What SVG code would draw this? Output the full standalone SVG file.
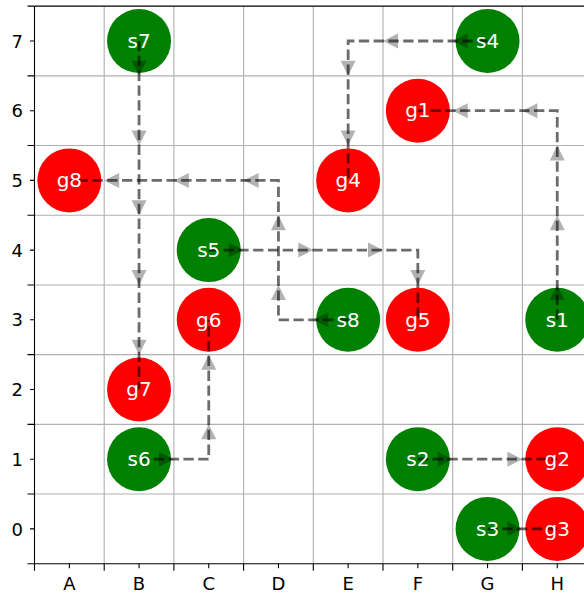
<svg xmlns="http://www.w3.org/2000/svg" xmlns:xlink="http://www.w3.org/1999/xlink" width="584" height="594" viewBox="0 0 584 594">
<style>
.grid{stroke:#b0b0b0;stroke-width:1.1;fill:none}
.spine{stroke:#000;stroke-width:1.1;fill:none}
.tick{stroke:#000;stroke-width:1.1}
.tl{font-family:"DejaVu Sans",sans-serif;font-size:18px;fill:#000}
.s circle{fill:#008000}
.g circle{fill:#ff0000}
.nl{font-family:"DejaVu Sans",sans-serif;font-size:20px;fill:#fff;text-anchor:middle}
.route{fill:none;stroke:#000;stroke-opacity:0.58;stroke-width:2.8;stroke-dasharray:10.3 4.5}
.ah{fill:#000;fill-opacity:0.3}
</style>
<defs>
<path id="ar" class="ah" d="M0,0 L-15,-7.5 L-15,7.5 Z"/>
</defs>
<rect width="584" height="594" fill="#fff"/>
<g id="grid">
<path class="grid" d="M104.2,6.15V563.75M173.9,6.15V563.75M243.6,6.15V563.75M313.3,6.15V563.75M383,6.15V563.75M452.7,6.15V563.75M522.4,6.15V563.75"/>
<path class="grid" d="M34.5,494.05H584M34.5,424.35H584M34.5,354.65H584M34.5,284.95H584M34.5,215.25H584M34.5,145.55H584M34.5,75.85H584"/>
</g>
<g id="axes">
<path class="spine" d="M34.5,6.15H584M34.5,6.15V563.75H584"/>
<path class="tick" d="M34.5,563.75h-7M34.5,494.05h-7M34.5,424.35h-7M34.5,354.65h-7M34.5,284.95h-7M34.5,215.25h-7M34.5,145.55h-7M34.5,75.85h-7M34.5,6.15h-7"/>
<path class="tick" d="M34.5,528.9h-4.5M34.5,459.2h-4.5M34.5,389.5h-4.5M34.5,319.8h-4.5M34.5,250.1h-4.5M34.5,180.4h-4.5M34.5,110.7h-4.5M34.5,41h-4.5"/>
<path class="tick" d="M34.5,563.75v7M104.2,563.75v7M173.9,563.75v7M243.6,563.75v7M313.3,563.75v7M383,563.75v7M452.7,563.75v7M522.4,563.75v7"/>
<path class="tick" d="M69.35,563.75v4.5M139.05,563.75v4.5M208.75,563.75v4.5M278.45,563.75v4.5M348.15,563.75v4.5M417.85,563.75v4.5M487.55,563.75v4.5M557.25,563.75v4.5"/>
<g class="tl" text-anchor="end">
<text x="23" y="535.5">0</text>
<text x="23" y="465.8">1</text>
<text x="23" y="396.1">2</text>
<text x="23" y="326.4">3</text>
<text x="23" y="256.7">4</text>
<text x="23" y="187">5</text>
<text x="23" y="117.3">6</text>
<text x="23" y="47.6">7</text>
</g>
<g class="tl" text-anchor="middle">
<text x="69.35" y="589.5">A</text>
<text x="139.05" y="589.5">B</text>
<text x="208.75" y="589.5">C</text>
<text x="278.45" y="589.5">D</text>
<text x="348.15" y="589.5">E</text>
<text x="417.85" y="589.5">F</text>
<text x="487.55" y="589.5">G</text>
<text x="557.25" y="589.5">H</text>
</g>
</g>
<g id="circles">
<g id="s1" class="s"><circle cx="557.25" cy="319.8" r="32"/></g>
<g id="s2" class="s"><circle cx="417.85" cy="459.2" r="32"/></g>
<g id="s3" class="s"><circle cx="487.55" cy="528.9" r="32"/></g>
<g id="s4" class="s"><circle cx="487.55" cy="41" r="32"/></g>
<g id="s5" class="s"><circle cx="208.75" cy="250.1" r="32"/></g>
<g id="s6" class="s"><circle cx="139.05" cy="459.2" r="32"/></g>
<g id="s7" class="s"><circle cx="139.05" cy="41" r="32"/></g>
<g id="s8" class="s"><circle cx="348.15" cy="319.8" r="32"/></g>
<g id="g1" class="g"><circle cx="417.85" cy="110.7" r="32"/></g>
<g id="g2" class="g"><circle cx="557.25" cy="459.2" r="32"/></g>
<g id="g3" class="g"><circle cx="557.25" cy="528.9" r="32"/></g>
<g id="g4" class="g"><circle cx="348.15" cy="180.4" r="32"/></g>
<g id="g5" class="g"><circle cx="417.85" cy="319.8" r="32"/></g>
<g id="g6" class="g"><circle cx="208.75" cy="319.8" r="32"/></g>
<g id="g7" class="g"><circle cx="139.05" cy="389.5" r="32"/></g>
<g id="g8" class="g"><circle cx="69.35" cy="180.4" r="32"/></g>
</g>
<g id="connectors">
<path class="route" d="M557.25,319.8V110.7H417.85"/>
<path class="route" d="M417.85,459.2H557.25"/>
<path class="route" d="M487.55,528.9H557.25"/>
<path class="route" d="M487.55,41H348.15V180.4"/>
<path class="route" d="M208.75,250.1H417.85V319.8"/>
<path class="route" d="M139.05,459.2H208.75V319.8"/>
<path class="route" d="M139.05,41V389.5"/>
<path class="route" d="M348.15,319.8H278.45V180.4H69.35"/>
<!-- s1 -->
<use xlink:href="#ar" transform="translate(557.25,284.95) rotate(-90)"/>
<use xlink:href="#ar" transform="translate(557.25,215.25) rotate(-90)"/>
<use xlink:href="#ar" transform="translate(557.25,145.55) rotate(-90)"/>
<use xlink:href="#ar" transform="translate(522.4,110.7) rotate(180)"/>
<use xlink:href="#ar" transform="translate(452.7,110.7) rotate(180)"/>
<!-- s2 -->
<use xlink:href="#ar" transform="translate(452.7,459.2)"/>
<use xlink:href="#ar" transform="translate(522.4,459.2)"/>
<!-- s3 -->
<use xlink:href="#ar" transform="translate(522.4,528.9)"/>
<!-- s4 -->
<use xlink:href="#ar" transform="translate(452.7,41) rotate(180)"/>
<use xlink:href="#ar" transform="translate(383,41) rotate(180)"/>
<use xlink:href="#ar" transform="translate(348.15,75.85) rotate(90)"/>
<use xlink:href="#ar" transform="translate(348.15,145.55) rotate(90)"/>
<!-- s5 -->
<use xlink:href="#ar" transform="translate(243.6,250.1)"/>
<use xlink:href="#ar" transform="translate(313.3,250.1)"/>
<use xlink:href="#ar" transform="translate(383,250.1)"/>
<use xlink:href="#ar" transform="translate(417.85,284.95) rotate(90)"/>
<!-- s6 -->
<use xlink:href="#ar" transform="translate(173.9,459.2)"/>
<use xlink:href="#ar" transform="translate(208.75,424.35) rotate(-90)"/>
<use xlink:href="#ar" transform="translate(208.75,354.65) rotate(-90)"/>
<!-- s7 -->
<use xlink:href="#ar" transform="translate(139.05,75.85) rotate(90)"/>
<use xlink:href="#ar" transform="translate(139.05,145.55) rotate(90)"/>
<use xlink:href="#ar" transform="translate(139.05,215.25) rotate(90)"/>
<use xlink:href="#ar" transform="translate(139.05,284.95) rotate(90)"/>
<use xlink:href="#ar" transform="translate(139.05,354.65) rotate(90)"/>
<!-- s8 -->
<use xlink:href="#ar" transform="translate(313.3,319.8) rotate(180)"/>
<use xlink:href="#ar" transform="translate(278.45,284.95) rotate(-90)"/>
<use xlink:href="#ar" transform="translate(278.45,215.25) rotate(-90)"/>
<use xlink:href="#ar" transform="translate(243.6,180.4) rotate(180)"/>
<use xlink:href="#ar" transform="translate(173.9,180.4) rotate(180)"/>
<use xlink:href="#ar" transform="translate(104.2,180.4) rotate(180)"/>
</g>
<g id="labels" class="nl">
<text x="557.25" y="326.5">s1</text>
<text x="417.85" y="465.9">s2</text>
<text x="487.55" y="535.6">s3</text>
<text x="487.55" y="47.7">s4</text>
<text x="208.75" y="256.8">s5</text>
<text x="139.05" y="465.9">s6</text>
<text x="139.05" y="47.7">s7</text>
<text x="348.15" y="326.5">s8</text>
<text x="417.85" y="117.4">g1</text>
<text x="557.25" y="465.9">g2</text>
<text x="557.25" y="535.6">g3</text>
<text x="348.15" y="187.1">g4</text>
<text x="417.85" y="326.5">g5</text>
<text x="208.75" y="326.5">g6</text>
<text x="139.05" y="396.2">g7</text>
<text x="69.35" y="187.1">g8</text>
</g>
</svg>
